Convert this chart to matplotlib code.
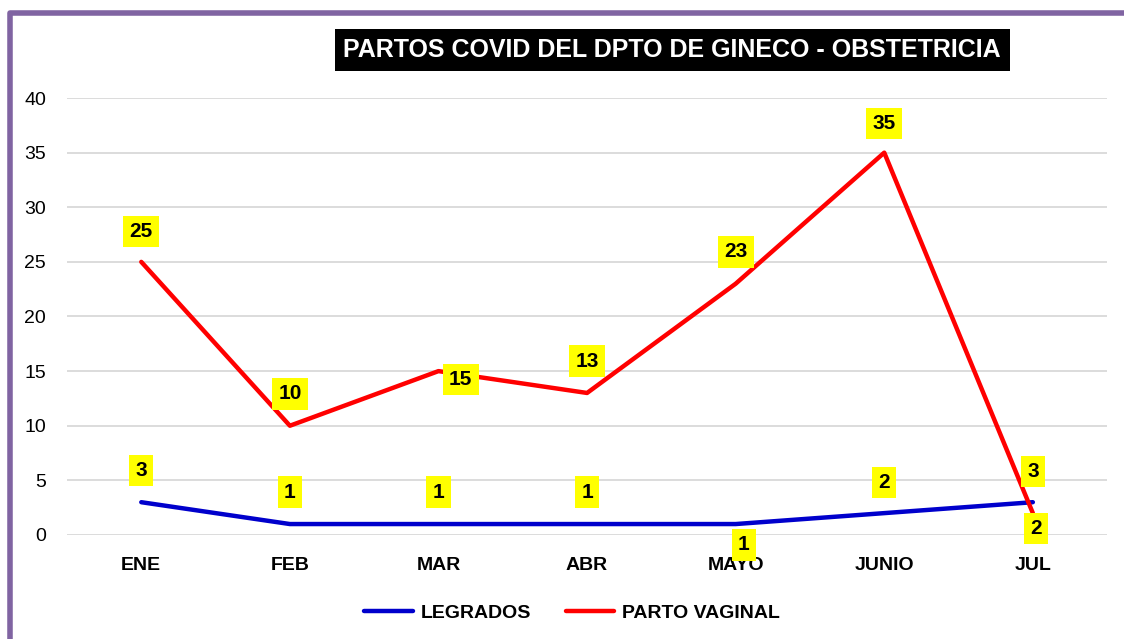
import matplotlib.pyplot as plt
from matplotlib.lines import Line2D

plt.rcParams['font.family'] = ['Liberation Sans Narrow', 'Liberation Sans', 'DejaVu Sans']

meses = ['ENE', 'FEB', 'MAR', 'ABR', 'MAYO', 'JUNIO', 'JUL']
legrados = [3, 1, 1, 1, 1, 2, 3]
parto_vaginal = [25, 10, 15, 13, 23, 35, 2]

# desplazamiento de las etiquetas (puntos) por serie
despl_legrados = [(0, 23), (0, 23), (0, 23), (0, 23), (6, -15), (0, 22), (0, 22)]
despl_parto = [(0, 22), (0, 23), (16, -6), (0, 23), (0, 23), (0, 21), (2, -11)]

fig = plt.figure(figsize=(11.24, 6.39), dpi=100)
ax = fig.add_axes([0.0596, 0.1628, 0.9254, 0.6838])

x = range(len(meses))
ax.plot(x, legrados, color='#0000CC', lw=3.2, solid_capstyle='round', label='LEGRADOS')
ax.plot(x, parto_vaginal, color='#FF0000', lw=3.2, solid_capstyle='round', label='PARTO VAGINAL')

caja = dict(boxstyle='square,pad=0.3', fc='#FFFF00', ec='none')
for i, v in enumerate(legrados):
    ax.annotate(str(v), (i, v), xytext=despl_legrados[i], textcoords='offset points',
                ha='center', va='center', fontsize=15, fontweight='bold', bbox=caja)
for i, v in enumerate(parto_vaginal):
    ax.annotate(str(v), (i, v), xytext=despl_parto[i], textcoords='offset points',
                ha='center', va='center', fontsize=15, fontweight='bold', bbox=caja)

ax.set_xlim(-0.5, 6.5)
ax.set_ylim(0, 40)
ax.set_yticks(range(0, 41, 5))
ax.set_xticks(list(x))
ax.set_xticklabels(meses, fontsize=14, fontweight='bold')
ax.tick_params(axis='y', labelsize=14, length=0, pad=15)
ax.tick_params(axis='x', length=0, pad=16)
ax.grid(axis='y', color='#D9D9D9', lw=1.3)
ax.set_axisbelow(True)
for s in ax.spines.values():
    s.set_visible(False)

fig.text(0.598, 0.922, 'PARTOS COVID DEL DPTO DE GINECO - OBSTETRICIA', ha='center', va='center',
         color='white', fontsize=18, fontweight='bold',
         bbox=dict(boxstyle='square,pad=0.35', fc='black', ec='none'))

fig.legend(loc='center', bbox_to_anchor=(0.509, 0.041), ncol=2, frameon=False,
           prop={'weight': 'bold', 'size': 14}, handlelength=2.5, handletextpad=0.4,
           columnspacing=1.8)

# marco morado
fig.add_artist(Line2D([0.009, 0.009, 1.0], [0.0, 0.979, 0.979], color='#8064A2', lw=4,
                      transform=fig.transFigure))

fig.savefig('out.png', dpi=100)
